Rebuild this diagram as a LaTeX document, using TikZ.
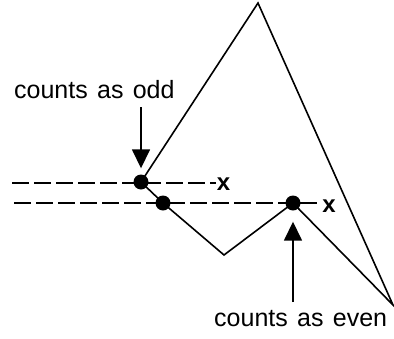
\documentclass[tikz,border=0pt]{standalone}
\usepackage{fontspec}
\setmainfont{Liberation Sans}
\usetikzlibrary{arrows.meta}
\newcommand\mylblfont{\fontsize{25}{29}\selectfont\spaceskip=9.3pt plus 0pt minus 0pt\relax}
\begin{document}
\begin{tikzpicture}[x=1pt,y=-1pt,
  edge/.style={line width=1.6pt},
  dashline/.style={line width=1.6pt, dash pattern=on 17pt off 5pt},
  dot/.style={circle, fill=black, inner sep=0pt, minimum size=15pt},
  lbl/.style={font=\mylblfont, inner sep=0pt, anchor=base west},
  xlbl/.style={font=\fontsize{24}{28}\selectfont\bfseries, inner sep=0pt, anchor=base},
  pointer/.style={line width=1.6pt, -{Triangle[width=18pt,length=19pt]}}]
\useasboundingbox (0,0) rectangle (394,338);
% polygon vertices
\coordinate (top) at (258,3);
\coordinate (valley) at (224,255);
\coordinate (br) at (393,305);
\node[dot] (odd) at (141,182) {};
\node[dot] (p2) at (163,203) {};
\node[dot] (even) at (293,203) {};
% dashed rays
\coordinate (s1) at (12,183);
\coordinate (s2) at (14,203);
\coordinate (e1) at (216,183);
\coordinate (e2) at (320,203);
\draw[dashline] (s1) -- (e1);
\draw[dashline] (s2) -- (e2);
\node[xlbl] (x1) at (223.5,190) {x};
\node[xlbl] (x2) at (329,212) {x};
% polygon
\draw[edge, line join=miter] (top) -- (odd.center) -- (p2.center) -- (valley) -- (even.center) -- (br) -- cycle;
% labels
\node[lbl] (todd) at (14,98) {counts as odd};
\node[lbl] (teven) at (214,326) {counts as even};
\coordinate (a1) at (141,107);
\coordinate (a2) at (293,302);
\draw[pointer, shorten >=6pt] (a1) -- (odd);
\draw[pointer, shorten >=11pt] (a2) -- (even);
\end{tikzpicture}
\end{document}
